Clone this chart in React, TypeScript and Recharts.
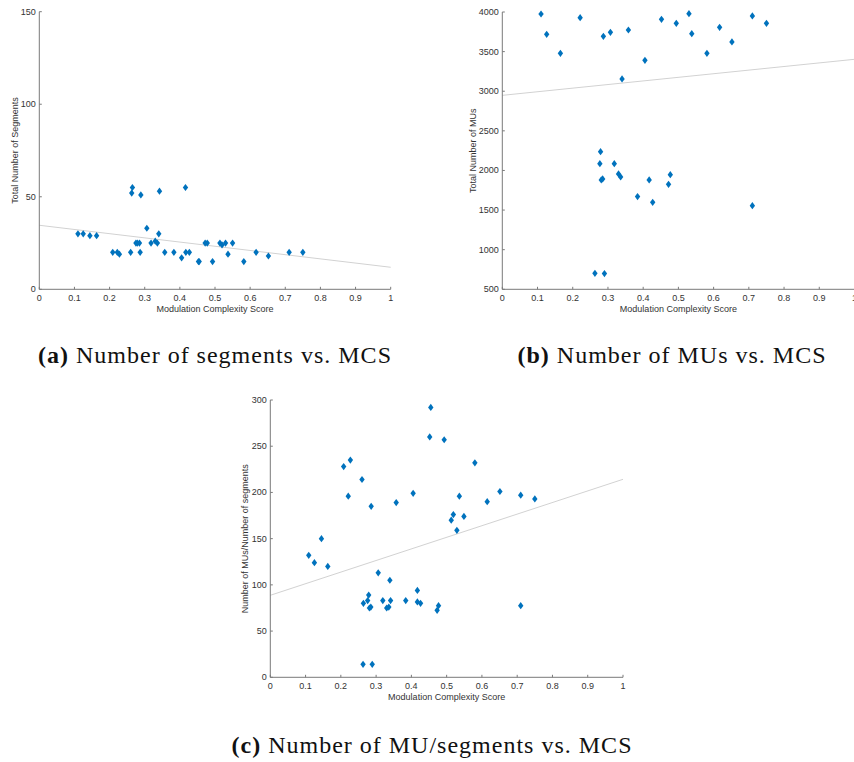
import { ScatterChart, Scatter, XAxis, YAxis, ReferenceLine, Label } from 'recharts';

const BLUE = '#0072BD';
const AXIS = '#7a7a7a';
const INK = '#333333';
const SANS = '"Liberation Sans", Arial, sans-serif';
const SERIF = '"Liberation Serif", "Times New Roman", serif';

const mcsTicks = [0, 0.1, 0.2, 0.3, 0.4, 0.5, 0.6, 0.7, 0.8, 0.9, 1];
const fitMcs = [0, 1];

// (a) total number of segments per plan
const segMcs = [
  0.11, 0.125, 0.144, 0.163, 0.209, 0.222, 0.228, 0.26, 0.263, 0.265, 0.275, 0.279, 0.285, 0.287,
  0.289, 0.306, 0.318, 0.33, 0.336, 0.34, 0.342, 0.357, 0.383, 0.405, 0.416, 0.417, 0.427, 0.453,
  0.455, 0.472, 0.478, 0.493, 0.514, 0.52, 0.53, 0.537, 0.55, 0.582, 0.617, 0.652, 0.711, 0.75,
];
const segCount = [
  30, 30, 29, 29, 20, 20, 19, 20, 52, 55, 25, 25, 25, 20, 51, 33, 25, 26, 25, 30, 53, 20, 20, 17,
  55, 20, 20, 15, 15, 25, 25, 15, 25, 24, 25, 19, 25, 15, 20, 18, 20, 20,
];
const segFit = [34.6, 11.9];
const segTicks = [0, 50, 100, 150];

// (b) total number of MUs per plan
const muMcs = [
  0.11, 0.126, 0.165, 0.221, 0.263, 0.277, 0.279, 0.281, 0.285, 0.287, 0.29, 0.307, 0.318, 0.33,
  0.336, 0.34, 0.358, 0.384, 0.405, 0.417, 0.427, 0.452, 0.472, 0.477, 0.494, 0.53, 0.538, 0.581,
  0.617, 0.652, 0.71, 0.71, 0.75,
];
const muCount = [
  3975, 3718, 3479, 3929, 702, 2086, 2237, 1880, 1893, 3693, 698, 3744, 2086, 1956, 1918, 3155,
  3773, 1670, 3390, 1880, 1598, 3908, 1825, 1947, 3857, 3979, 3727, 3479, 3807, 3622, 3950, 1556,
  3857,
];
const muFit = [2948, 3403];
const muTicks = [500, 1000, 1500, 2000, 2500, 3000, 3500, 4000];

// (c) MUs per segment
const ratioMcs = [
  0.109, 0.125, 0.145, 0.163, 0.208, 0.221, 0.227, 0.26, 0.263, 0.264, 0.276, 0.279, 0.281, 0.285,
  0.286, 0.289, 0.306, 0.319, 0.33, 0.336, 0.339, 0.341, 0.357, 0.384, 0.405, 0.417, 0.417, 0.426,
  0.452, 0.455, 0.473, 0.477, 0.493, 0.513, 0.519, 0.529, 0.536, 0.549, 0.58, 0.615, 0.651, 0.71,
  0.71, 0.75,
];
const ratioValue = [
  132, 124, 150, 120, 228, 196, 235, 214, 14, 80, 83, 89, 75, 76, 185, 14, 113, 83, 75, 76, 105, 83,
  189, 83, 199, 94, 81.5, 80, 260, 292, 72.5, 77.5, 257, 170, 176, 159, 196, 174, 232, 190, 201,
  197, 77.5, 193,
];
const ratioFit = [88.7, 214.2];
const ratioTicks = [0, 50, 100, 150, 200, 250, 300];

const toPoints = (xs: number[], ys: number[]) => xs.map((x, i) => ({ x, y: ys[i] }));

const Diamond = (props: any) => {
  const { cx, cy } = props;
  if (cx == null || cy == null) return null;
  return (
    <path
      d={`M${cx},${cy - 3.6} L${cx + 2.7},${cy} L${cx},${cy + 3.6} L${cx - 2.7},${cy} Z`}
      fill={BLUE}
    />
  );
};

// MATLAB style ticks: short marks pointing into the axes
const XTick = (props: any) => {
  const { x, y, payload } = props;
  return (
    <g>
      <line x1={x} x2={x} y1={y} y2={y - 2.5} stroke={AXIS} />
      <text x={x} y={y + 8.5} textAnchor="middle" dominantBaseline="central" fontSize={9} fontFamily={SANS} fill={INK}>
        {payload.value}
      </text>
    </g>
  );
};

const YTick = (props: any) => {
  const { x, y, payload } = props;
  return (
    <g>
      <line x1={x} x2={x + 2.5} y1={y} y2={y} stroke={AXIS} />
      <text x={x - 3.5} y={y} textAnchor="end" dominantBaseline="central" fontSize={9} fontFamily={SANS} fill={INK}>
        {payload.value}
      </text>
    </g>
  );
};

type PanelProps = {
  left: number;
  top: number;
  width: number;
  height: number;
  margin: { top: number; right: number; bottom: number; left: number };
  yWidth: number;
  xs: number[];
  ys: number[];
  fit: number[];
  yTicks: number[];
  yTitle: string;
  yTitleShift: number;
};

const Panel = ({ left, top, width, height, margin, yWidth, xs, ys, fit, yTicks, yTitle, yTitleShift }: PanelProps) => {
  const yDomain = [yTicks[0], yTicks[yTicks.length - 1]];
  return (
    <div style={{ position: 'absolute', left, top }}>
      <ScatterChart width={width} height={height} margin={margin}>
        <XAxis
          type="number"
          dataKey="x"
          domain={[0, 1]}
          ticks={mcsTicks}
          interval={0}
          tickSize={0}
          tickMargin={0}
          tickLine={false}
          tick={<XTick />}
          height={30}
          axisLine={{ stroke: AXIS }}
        >
          <Label
            content={(p: any) => {
              const vb = p.viewBox;
              return (
                <text
                  x={vb.x + vb.width / 2}
                  y={vb.y + 20}
                  textAnchor="middle"
                  dominantBaseline="central"
                  fontSize={9}
                  fontFamily={SANS}
                  fill={INK}
                >
                  Modulation Complexity Score
                </text>
              );
            }}
          />
        </XAxis>
        <YAxis
          type="number"
          dataKey="y"
          domain={yDomain}
          ticks={yTicks}
          interval={0}
          width={yWidth}
          tickSize={0}
          tickMargin={0}
          tickLine={false}
          tick={<YTick />}
          axisLine={{ stroke: AXIS }}
        >
          <Label
            content={(p: any) => {
              const vb = p.viewBox;
              const tx = vb.x + vb.width + yTitleShift;
              const ty = vb.y + vb.height / 2;
              return (
                <text
                  x={tx}
                  y={ty}
                  transform={`rotate(-90 ${tx} ${ty})`}
                  textAnchor="middle"
                  dominantBaseline="central"
                  fontSize={9}
                  fontFamily={SANS}
                  fill={INK}
                >
                  {yTitle}
                </text>
              );
            }}
          />
        </YAxis>
        <ReferenceLine
          segment={[
            { x: fitMcs[0], y: fit[0] },
            { x: fitMcs[1], y: fit[1] },
          ]}
          stroke="#d2d2d2"
          strokeWidth={1}
        />
        <Scatter data={toPoints(xs, ys)} shape={<Diamond />} isAnimationActive={false} />
      </ScatterChart>
    </div>
  );
};

const captionStyle = { fontFamily: SERIF, fontSize: 24, letterSpacing: 1, fill: '#111' };

export default function App() {
  return (
    <div
      style={{
        position: 'absolute',
        left: 0,
        top: 0,
        width: 854,
        height: 762,
        overflow: 'hidden',
        background: '#fff',
      }}
    >
      <Panel
        left={0}
        top={0}
        width={400}
        height={320}
        margin={{ top: 11.7, right: 9.3, bottom: 0.7, left: 9.3 }}
        yWidth={30}
        xs={segMcs}
        ys={segCount}
        fit={segFit}
        yTicks={segTicks}
        yTitle="Total Number of Segments"
        yTitleShift={-24.3}
      />
      <Panel
        left={440}
        top={0}
        width={420}
        height={320}
        margin={{ top: 12, right: 5.5, bottom: 0.7, left: 22.3 }}
        yWidth={40}
        xs={muMcs}
        ys={muCount}
        fit={muFit}
        yTicks={muTicks}
        yTitle="Total Number of MUs"
        yTitleShift={-29.3}
      />
      <Panel
        left={230}
        top={388}
        width={400}
        height={320}
        margin={{ top: 12, right: 7, bottom: 0.7, left: 10.3 }}
        yWidth={30}
        xs={ratioMcs}
        ys={ratioValue}
        fit={ratioFit}
        yTicks={ratioTicks}
        yTitle="Number of MUs/Number of segments"
        yTitleShift={-24.8}
      />
      <svg width={854} height={762} style={{ position: 'absolute', left: 0, top: 0, pointerEvents: 'none' }}>
        <text x={215} y={363} textAnchor="middle" style={captionStyle}>
          <tspan fontWeight="bold">(a)</tspan> Number of segments vs. MCS
        </text>
        <text x={672} y={363} textAnchor="middle" style={captionStyle}>
          <tspan fontWeight="bold">(b)</tspan> Number of MUs vs. MCS
        </text>
        <text x={432} y={752.7} textAnchor="middle" style={captionStyle}>
          <tspan fontWeight="bold">(c)</tspan> Number of MU/segments vs. MCS
        </text>
      </svg>
    </div>
  );
}
